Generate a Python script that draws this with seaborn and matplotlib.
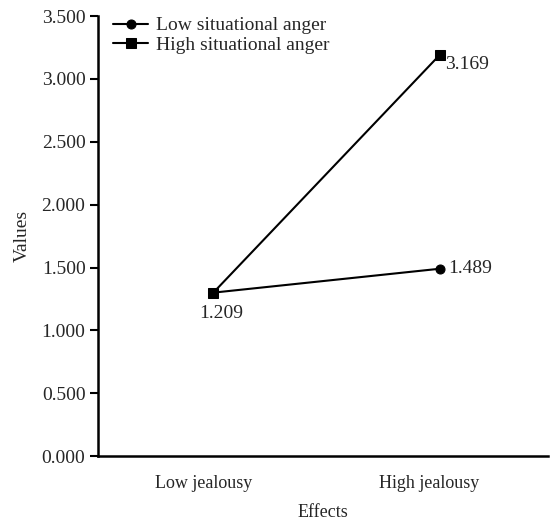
import pandas as pd
import numpy as np
import seaborn as sns
import matplotlib.pyplot as plt
import matplotlib.transforms as mtransforms

# data
jealousy = ['Low jealousy', 'High jealousy']
anger_levels = ['Low situational anger', 'High situational anger']
low_anger_vals = [1.30, 1.49]
high_anger_vals = [1.30, 3.19]
value_labels = ['1.209', '1.489', '3.169']

FS = 14

sns.set_theme(style='ticks')
plt.rcParams['font.family'] = ['Liberation Serif', 'DejaVu Serif']

df = pd.DataFrame({
    'Effects': jealousy * 2,
    'Values': low_anger_vals + high_anger_vals,
    'Anger': [anger_levels[0]] * 2 + [anger_levels[1]] * 2,
})

fig = plt.figure(figsize=(5.52, 5.2), dpi=100)
ax = fig.add_axes([0.1775, 0.123, 0.8155, 0.846])

sns.lineplot(data=df, x='Effects', y='Values', hue='Anger', style='Anger',
             markers={anger_levels[0]: 'o', anger_levels[1]: 's'}, dashes=False,
             palette=['black', 'black'], linewidth=1.5, markersize=6.5,
             markeredgecolor='black', ax=ax)

ax.set_ylim(0, 3.5)
ax.set_xlim(-0.51, 1.48)
ax.set_yticks(np.arange(0, 3.51, 0.5))
ax.set_yticklabels([f'{v:.3f}' for v in np.arange(0, 3.51, 0.5)])
ax.tick_params(axis='y', length=6, width=1.5, color='black', labelsize=FS, pad=3)
ax.tick_params(axis='x', length=0, labelsize=13, pad=14)
# x labels sit a little left of the points in the original
offset = mtransforms.ScaledTranslation(-0.10, 0, fig.dpi_scale_trans)
for lbl in ax.get_xticklabels():
    lbl.set_transform(lbl.get_transform() + offset)

for side in ['top', 'right']:
    ax.spines[side].set_visible(False)
for side in ['left', 'bottom']:
    ax.spines[side].set_linewidth(1.8)
    ax.spines[side].set_color('black')

ax.set_xlabel('Effects', fontsize=13, labelpad=8)
ax.set_ylabel('Values', fontsize=FS, labelpad=8)

ax.annotate(value_labels[0], (0, low_anger_vals[0]), xytext=(8, -21),
            textcoords='offset pixels', ha='center', va='center', fontsize=FS)
ax.annotate(value_labels[1], (1, low_anger_vals[1]), xytext=(9, 0),
            textcoords='offset pixels', ha='left', va='center', fontsize=FS)
ax.annotate(value_labels[2], (1, high_anger_vals[1]), xytext=(6, -9),
            textcoords='offset pixels', ha='left', va='center', fontsize=FS)

ax.legend(loc='upper left', frameon=False, fontsize=FS, handlelength=1.8,
          handletextpad=0.4, borderaxespad=0.2, labelspacing=0.1,
          bbox_to_anchor=(0.008, 1.025))

fig.savefig('out.png', dpi=100)
